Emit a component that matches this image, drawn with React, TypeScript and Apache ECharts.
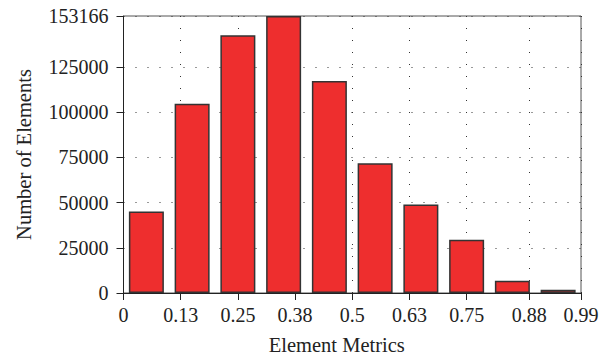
import React, { useEffect, useRef } from "react";
import * as echarts from "echarts";

const binCenters = [0.05, 0.15, 0.25, 0.35, 0.45, 0.55, 0.65, 0.75, 0.85, 0.95];
const counts = [45000, 104700, 142500, 153166, 117200, 71700, 49000, 29500, 6800, 1800];
const xTickValues = [0, 0.125, 0.25, 0.375, 0.5, 0.625, 0.75, 0.887, 1];
const xTickLabels = ["0", "0.13", "0.25", "0.38", "0.5", "0.63", "0.75", "0.88", "0.99"];
const yTickValues = [0, 25000, 50000, 75000, 100000, 125000, 153166];
const yMax = 153166;

const FONT = "'Liberation Serif', serif";

export default function App() {
  const ref = useRef<HTMLDivElement>(null);
  useEffect(() => {
    if (!ref.current) return;
    const chart = echarts.init(ref.current, null, { renderer: "svg" });
    const gridDots = { color: "#333", width: 1, type: [1, 11] as any };
    chart.setOption({
      animation: false,
      grid: {
        left: 123.5,
        right: 29,
        top: 16,
        bottom: 63,
        show: true,
        borderColor: "#555",
        borderWidth: 1,
        backgroundColor: "transparent",
        containLabel: false,
        outerBoundsMode: "none",
      },
      xAxis: {
        type: "value",
        min: 0,
        max: 1,
        name: "Element Metrics",
        nameLocation: "middle",
        nameGap: 41,
        nameTextStyle: { fontFamily: FONT, fontSize: 20.5, color: "#222", padding: [0, 31, 0, 0] },
        axisLine: { show: true, lineStyle: { color: "#222", width: 1 } },
        axisTick: { show: true, length: 7, inside: false, customValues: xTickValues, lineStyle: { color: "#222" } },
        axisLabel: {
          customValues: xTickValues,
          fontFamily: FONT,
          fontSize: 20,
          color: "#222",
          margin: 12,
          formatter: (v: number) => {
            const i = xTickValues.findIndex((t) => Math.abs(t - v) < 1e-9);
            return i >= 0 ? xTickLabels[i] : "";
          },
        },
        splitLine: { show: true, lineStyle: gridDots },
      },
      yAxis: {
        type: "value",
        min: 0,
        max: yMax,
        name: "Number of Elements",
        nameLocation: "middle",
        nameGap: 89,
        nameTextStyle: { fontFamily: FONT, fontSize: 20.5, color: "#222" },
        axisLine: { show: true, lineStyle: { color: "#222", width: 1 } },
        axisTick: { show: true, length: 7, inside: false, customValues: yTickValues, lineStyle: { color: "#222" } },
        axisLabel: {
          customValues: yTickValues,
          fontFamily: FONT,
          fontSize: 20,
          color: "#222",
          margin: 15,
          formatter: (v: number) => String(v),
        },
        splitLine: { show: true, lineStyle: gridDots },
      },
      series: [
        {
          type: "bar",
          data: binCenters.map((c, i) => [c, counts[i]]),
          barWidth: 35,
          itemStyle: { color: "#EE2E2E", borderColor: "#333", borderWidth: 1.5 },
        },
      ],
    });
    return () => chart.dispose();
  }, []);
  return <div ref={ref} style={{ width: 610, height: 356, position: "absolute", left: 0, top: 0 }} />;
}
